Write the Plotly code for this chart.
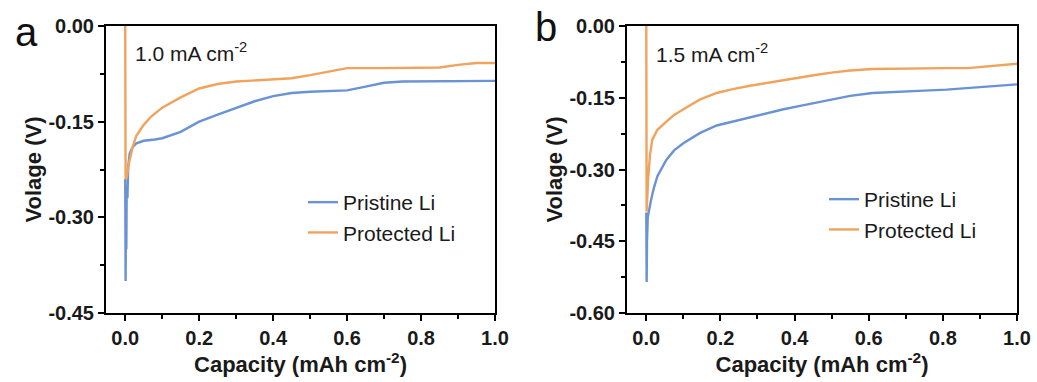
import plotly.graph_objects as go

# ---- data ----
a_pristine_x = [0, 0.001, 0.002, 0.003, 0.004, 0.006, 0.008, 0.012, 0.02, 0.03, 0.05, 0.08, 0.1, 0.15, 0.2, 0.25, 0.3, 0.35, 0.4, 0.45, 0.5, 0.55, 0.6, 0.65, 0.7, 0.75, 0.8, 0.9, 1.0]
a_pristine_y = [-0.24, -0.40, -0.30, -0.35, -0.25, -0.27, -0.22, -0.20, -0.19, -0.184, -0.180, -0.178, -0.176, -0.166, -0.150, -0.139, -0.128, -0.118, -0.110, -0.105, -0.103, -0.102, -0.101, -0.095, -0.089, -0.087, -0.087, -0.087, -0.086]
a_protected_x = [0, 0.001, 0.004, 0.01, 0.02, 0.03, 0.05, 0.07, 0.1, 0.15, 0.2, 0.25, 0.3, 0.35, 0.4, 0.45, 0.5, 0.55, 0.6, 0.7, 0.8, 0.85, 0.9, 0.95, 1.0]
a_protected_y = [0.0, -0.24, -0.238, -0.215, -0.19, -0.172, -0.155, -0.142, -0.128, -0.112, -0.098, -0.091, -0.087, -0.085, -0.083, -0.082, -0.077, -0.071, -0.066, -0.066, -0.066, -0.065, -0.061, -0.058, -0.058]

b_pristine_x = [0, 0.001, 0.002, 0.004, 0.007, 0.013, 0.02, 0.03, 0.054, 0.075, 0.1, 0.144, 0.19, 0.233, 0.28, 0.325, 0.37, 0.415, 0.46, 0.505, 0.55, 0.61, 0.68, 0.75, 0.81, 0.867, 0.93, 1.0]
b_pristine_y = [-0.39, -0.535, -0.45, -0.40, -0.385, -0.363, -0.34, -0.314, -0.28, -0.26, -0.245, -0.224, -0.208, -0.200, -0.191, -0.182, -0.174, -0.167, -0.160, -0.153, -0.146, -0.140, -0.137, -0.135, -0.133, -0.130, -0.127, -0.122]
b_protected_x = [0, 0.001, 0.005, 0.01, 0.016, 0.03, 0.054, 0.075, 0.098, 0.144, 0.19, 0.233, 0.28, 0.325, 0.37, 0.415, 0.46, 0.505, 0.55, 0.61, 0.68, 0.75, 0.81, 0.867, 0.93, 1.0]
b_protected_y = [0.0, -0.388, -0.32, -0.27, -0.238, -0.217, -0.200, -0.186, -0.175, -0.154, -0.140, -0.132, -0.125, -0.119, -0.113, -0.107, -0.102, -0.097, -0.093, -0.090, -0.089, -0.088, -0.088, -0.088, -0.084, -0.079]

series_names = ["Pristine Li", "Protected Li"]
colors = ["#6a93d3", "#f0a35c"]
x_ticks = [0.0, 0.2, 0.4, 0.6, 0.8, 1.0]
x_ticklabels = ["0.0", "0.2", "0.4", "0.6", "0.8", "1.0"]
a_yticks = [0.0, -0.15, -0.30, -0.45]
b_yticks = [0.0, -0.15, -0.30, -0.45, -0.60]
current_labels = ["1.0 mA cm<sup>-2</sup>", "1.5 mA cm<sup>-2</sup>"]
panel_labels = ["a", "b"]

FONT = "Liberation Sans, Arial, sans-serif"
fig = go.Figure()

lw = 2.4
fig.add_trace(go.Scatter(x=a_pristine_x, y=a_pristine_y, mode="lines", name=series_names[0],
                         line=dict(color=colors[0], width=lw), xaxis="x", yaxis="y", legend="legend"))
fig.add_trace(go.Scatter(x=a_protected_x, y=a_protected_y, mode="lines", name=series_names[1],
                         line=dict(color=colors[1], width=lw), xaxis="x", yaxis="y", legend="legend"))
fig.add_trace(go.Scatter(x=b_pristine_x, y=b_pristine_y, mode="lines", name=series_names[0],
                         line=dict(color=colors[0], width=lw), xaxis="x2", yaxis="y2", legend="legend2"))
fig.add_trace(go.Scatter(x=b_protected_x, y=b_protected_y, mode="lines", name=series_names[1],
                         line=dict(color=colors[1], width=lw), xaxis="x2", yaxis="y2", legend="legend2"))

W, H = 1037, 382
ydom = [1 - 313 / H, 1 - 26 / H]
TICKFONT = dict(family=FONT, size=20, color="#1a1a1a", weight="bold")
TITLEFONT = dict(family=FONT, size=22, color="#1a1a1a")
TEXTFONT = dict(family=FONT, size=21, color="#1a1a1a")

def xaxis(dom, anchor):
    return dict(domain=dom, anchor=anchor, range=[-0.052, 1.0], tickvals=x_ticks, ticktext=x_ticklabels,
                ticks="outside", ticklen=6, tickwidth=2, tickcolor="black",
                minor=dict(ticks="outside", ticklen=4, tickwidth=2, tickcolor="black", dtick=0.1, tick0=0),
                showline=True, linewidth=2, linecolor="black", mirror=True, showgrid=False, zeroline=False,
                tickfont=TICKFONT, automargin=False,
                title=dict(text="<b>Capacity (mAh cm<sup>-2</sup>)</b>", font=TITLEFONT, standoff=8))

def yaxis(dom, anchor, rng, tv):
    return dict(domain=dom, anchor=anchor, range=rng, tickvals=tv, ticktext=["%.2f" % v if v != 0 else "0.00" for v in tv],
                ticks="outside", ticklen=6, tickwidth=2, tickcolor="black",
                minor=dict(ticks="outside", ticklen=4, tickwidth=2, tickcolor="black", dtick=0.075, tick0=0),
                showline=True, linewidth=2, linecolor="black", mirror=True, showgrid=False, zeroline=False,
                tickfont=TICKFONT, automargin=False,
                title=dict(text="<b>Volage (V)</b>", font=TITLEFONT, standoff=1))

fig.update_layout(
    width=W, height=H, margin=dict(l=0, r=0, t=0, b=0, autoexpand=False),
    paper_bgcolor="white", plot_bgcolor="white",
    xaxis=xaxis([106 / W, 495 / W], "y"),
    yaxis=yaxis(ydom, "x", [-0.45, 0.0], a_yticks),
    xaxis2=xaxis([627 / W, 1017 / W], "y2"),
    yaxis2=yaxis(ydom, "x2", [-0.60, 0.0], b_yticks),
    legend=dict(x=303 / W, y=1 - 182 / H, xanchor="left", yanchor="top", bgcolor="rgba(0,0,0,0)",
                font=TEXTFONT, tracegroupgap=0),
    legend2=dict(x=824 / W, y=1 - 179 / H, xanchor="left", yanchor="top", bgcolor="rgba(0,0,0,0)",
                 font=TEXTFONT, tracegroupgap=0),
)

# current density labels
fig.add_annotation(x=0.02, y=-0.04, xref="x", yref="y", text=current_labels[0], showarrow=False,
                   xanchor="left", yanchor="middle", font=TEXTFONT)
fig.add_annotation(x=0.02, y=-0.057, xref="x2", yref="y2", text=current_labels[1], showarrow=False,
                   xanchor="left", yanchor="middle", font=TEXTFONT)
# panel labels
fig.add_annotation(x=13 / W, y=1 - 8 / H, xref="paper", yref="paper", text=panel_labels[0], showarrow=False,
                   xanchor="left", yanchor="top", font=dict(family=FONT, size=40, color="#111"))
fig.add_annotation(x=533 / W, y=1 - 3 / H, xref="paper", yref="paper", text=panel_labels[1], showarrow=False,
                   xanchor="left", yanchor="top", font=dict(family=FONT, size=40, color="#111"))

fig.write_html("out.html")
